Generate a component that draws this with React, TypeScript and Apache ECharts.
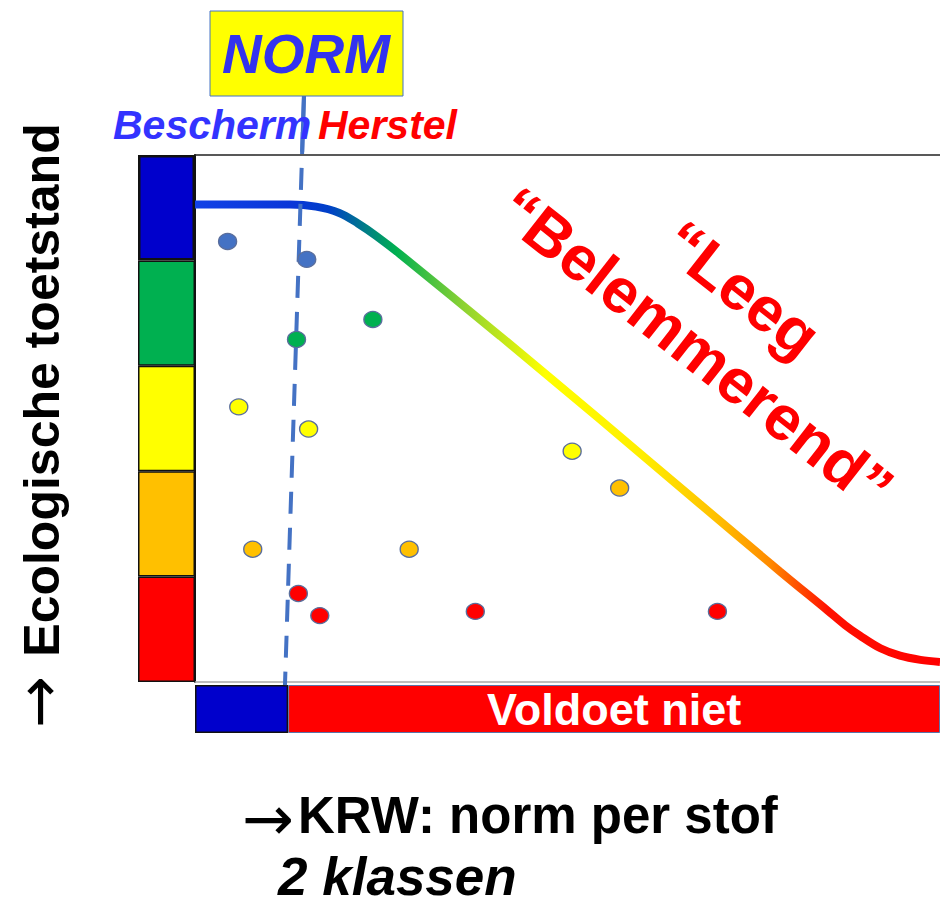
import React, { useEffect, useRef } from 'react';
import * as echarts from 'echarts';

// Ecological classes, bottom (0) to top (5)
const classNames = ['Slecht', 'Ontoereikend', 'Matig', 'Goed', 'Zeer goed'];
const classColors = ['#FF0000', '#FFC000', '#FFFF00', '#00B050', '#0000CC'];
const classSpan = [1, 1, 1, 1, 1];

// KRW: 2 classes on the concentration axis (0..8), norm at 1
const krwClasses = ['Voldoet', 'Voldoet niet'];
const krwSpan = [1, 7];
const krwColors = ['#0000CC', '#FF0000'];

// Dose-response curve
const curveX = [0, 1.02, 1.3, 1.55, 1.75, 1.95, 2.2, 3.28, 4.35, 5.42, 6.28, 6.79, 6.98, 7.14, 7.36, 7.57, 7.79, 8.0];
const curveY = [4.53, 4.53, 4.51, 4.45, 4.35, 4.23, 4.06, 3.28, 2.49, 1.69, 1.05, 0.68, 0.54, 0.44, 0.32, 0.25, 0.21, 0.19];

// Norm line (slightly tilted, dashed)
const normX = [1.17, 0.966];
const normY = [5.56, -0.03];
const normSolidX = [1.17, 1.151];
const normSolidY = [5.56, 5.03];

// Observation points per class
const dotColors = ['#FF0000', '#FFC000', '#FFFF00', '#00B050', '#4472C4'];
const dotsRed = [[1.11, 0.84], [1.34, 0.63], [3.01, 0.67], [5.61, 0.67]];
const dotsOrange = [[0.62, 1.26], [2.3, 1.26], [4.56, 1.84]];
const dotsYellow = [[0.47, 2.61], [1.22, 2.4], [4.05, 2.19]];
const dotsGreen = [[1.09, 3.25], [1.91, 3.44]];
const dotsBlue = [[0.35, 4.18], [1.2, 4.01]];
const dotsByClass = [dotsRed, dotsOrange, dotsYellow, dotsGreen, dotsBlue];

const FONT = '"Liberation Sans", Arial, sans-serif';

function txt(x: number, y: number, text: string, o: any) {
  const align = o.align || 'center';
  return {
    type: 'text',
    x,
    y,
    rotation: o.rotation || 0,
    z: 100,
    style: {
      text,
      fill: o.fill || '#000',
      fontSize: o.fontSize,
      fontWeight: o.fontWeight || 'normal',
      fontStyle: o.fontStyle || 'normal',
      fontFamily: o.fontFamily || FONT,
      align,
      verticalAlign: 'middle',
      textAlign: align,
      textVerticalAlign: 'middle',
    },
  };
}

export default function App() {
  const ref = useRef<HTMLDivElement>(null);
  useEffect(() => {
    const chart = echarts.init(ref.current!, null, { renderer: 'svg' });
    const gradient = new echarts.graphic.LinearGradient(0, 0, 1, 0, [
      { offset: 0, color: '#1242E6' },
      { offset: 0.13, color: '#0A36D8' },
      { offset: 0.18, color: '#0040C8' },
      { offset: 0.27, color: '#00B050' },
      { offset: 0.36, color: '#8CD232' },
      { offset: 0.47, color: '#FFFF00' },
      { offset: 0.6, color: '#FFEE00' },
      { offset: 0.7, color: '#FFC000' },
      { offset: 0.77, color: '#FF8C00' },
      { offset: 0.85, color: '#FF1000' },
      { offset: 1, color: '#FF0000' },
    ]);

    const hiddenAxis = {
      axisLine: { show: false },
      axisTick: { show: false },
      axisLabel: { show: false },
      splitLine: { show: false },
    };

    const series: any[] = [];
    classSpan.forEach((v, i) => {
      series.push({
        type: 'bar',
        name: classNames[i],
        xAxisIndex: 2,
        yAxisIndex: 1,
        stack: 'klasse',
        barWidth: '100%',
        data: [v],
        silent: true,
        itemStyle: { color: classColors[i], borderColor: '#111', borderWidth: i === 4 ? 2.5 : 1.5 },
      });
    });
    krwSpan.forEach((v, i) => {
      series.push({
        type: 'bar',
        name: krwClasses[i],
        xAxisIndex: 3,
        yAxisIndex: 2,
        stack: 'krw',
        barWidth: '100%',
        data: [v],
        silent: true,
        itemStyle: {
          color: krwColors[i],
          borderColor: i === 0 ? '#111' : '#5B73A8',
          borderWidth: i === 0 ? 1.5 : 1,
        },
        label: {
          show: i === 1,
          position: 'inside',
          formatter: krwClasses[i],
          color: '#fff',
          fontSize: 45,
          fontWeight: 'bold',
          fontFamily: FONT,
        },
      });
    });
    series.push({
      type: 'line',
      xAxisIndex: 0,
      yAxisIndex: 0,
      data: curveX.map((x, i) => [x, curveY[i]]),
      smooth: 0.35,
      showSymbol: false,
      symbol: 'none',
      z: 2,
      lineStyle: { width: 8, color: gradient },
    });
    series.push({
      type: 'line',
      xAxisIndex: 0,
      yAxisIndex: 0,
      data: normX.map((x, i) => [x, normY[i]]),
      clip: false,
      symbol: 'none',
      z: 3,
      lineStyle: { width: 4, color: '#4472C4', type: [22, 14] },
    });
    series.push({
      type: 'line',
      xAxisIndex: 0,
      yAxisIndex: 0,
      data: normSolidX.map((x, i) => [x, normSolidY[i]]),
      clip: false,
      symbol: 'none',
      z: 3,
      lineStyle: { width: 4, color: '#4472C4' },
    });
    dotsByClass.forEach((pts, i) => {
      series.push({
        type: 'scatter',
        xAxisIndex: 0,
        yAxisIndex: 0,
        data: pts,
        symbol: 'circle',
        symbolSize: [18, 16],
        z: 4,
        itemStyle: { color: dotColors[i], borderColor: '#5A6E9C', borderWidth: 1.3, opacity: 1 },
      });
    });

    chart.setOption({
      animation: false,
      backgroundColor: '#fff',
      grid: [
        { left: 195, top: 155, width: 745, height: 527 },
        { left: 138, top: 155, width: 57, height: 527 },
        { left: 195, top: 685, width: 745, height: 48 },
      ],
      xAxis: [
        {
          gridIndex: 0, type: 'value', min: 0, max: 8, position: 'bottom',
          axisLine: { show: true, onZero: false, lineStyle: { color: '#A8A8A8', width: 1.5 } },
          axisTick: { show: false }, axisLabel: { show: false }, splitLine: { show: false },
        },
        {
          gridIndex: 0, type: 'value', min: 0, max: 8, position: 'top',
          axisLine: { show: true, onZero: false, lineStyle: { color: '#222', width: 1.5 } },
          axisTick: { show: false }, axisLabel: { show: false }, splitLine: { show: false },
        },
        { gridIndex: 1, type: 'category', data: ['klasse'], ...hiddenAxis },
        { gridIndex: 2, type: 'value', min: 0, max: 8, ...hiddenAxis },
      ],
      yAxis: [
        {
          gridIndex: 0, type: 'value', min: 0, max: 5,
          axisLine: { show: true, onZero: false, lineStyle: { color: '#111', width: 2 } },
          axisTick: { show: false }, axisLabel: { show: false }, splitLine: { show: false },
        },
        { gridIndex: 1, type: 'value', min: 0, max: 5, ...hiddenAxis },
        { gridIndex: 2, type: 'category', data: ['KRW'], ...hiddenAxis },
      ],
      series,
      graphic: [
        {
          type: 'rect',
          shape: { x: 210, y: 11, width: 193, height: 85 },
          style: { fill: '#FFFF00', stroke: '#4472C4', lineWidth: 1 },
          z: 90,
        },
        txt(306, 54, 'NORM', { fill: '#3333EE', fontSize: 55, fontWeight: 'bold', fontStyle: 'italic' }),
        txt(113, 125, 'Bescherm', { align: 'left', fill: '#3333FF', fontSize: 41, fontWeight: 'bold', fontStyle: 'italic' }),
        txt(318, 125, 'Herstel', { align: 'left', fill: '#FF0000', fontSize: 41, fontWeight: 'bold', fontStyle: 'italic' }),
        txt(42, 390, 'Ecologische toetstand', { rotation: Math.PI / 2, fontSize: 50, fontWeight: 'bold' }),
        txt(38, 702, '→', { rotation: Math.PI / 2, fontSize: 62, fontFamily: '"DejaVu Sans", sans-serif' }),
        txt(268, 818, '→', { fontSize: 62, fontFamily: '"DejaVu Sans", sans-serif' }),
        txt(298, 815, 'KRW: norm per stof', { align: 'left', fontSize: 51, fontWeight: 'bold' }),
        txt(278, 876, '2 klassen', { align: 'left', fontSize: 53, fontWeight: 'bold', fontStyle: 'italic' }),
        txt(742, 289, '“Leeg', { rotation: -38 * Math.PI / 180, fill: '#FF0000', fontSize: 63, fontWeight: 'bold' }),
        txt(696, 348, '“Belemmerend”', { rotation: -38 * Math.PI / 180, fill: '#FF0000', fontSize: 63, fontWeight: 'bold' }),
      ],
    });
    return () => chart.dispose();
  }, []);
  return (
    <div
      ref={ref}
      style={{ position: 'absolute', left: 0, top: 0, width: 940, height: 905, background: '#fff' }}
    />
  );
}
